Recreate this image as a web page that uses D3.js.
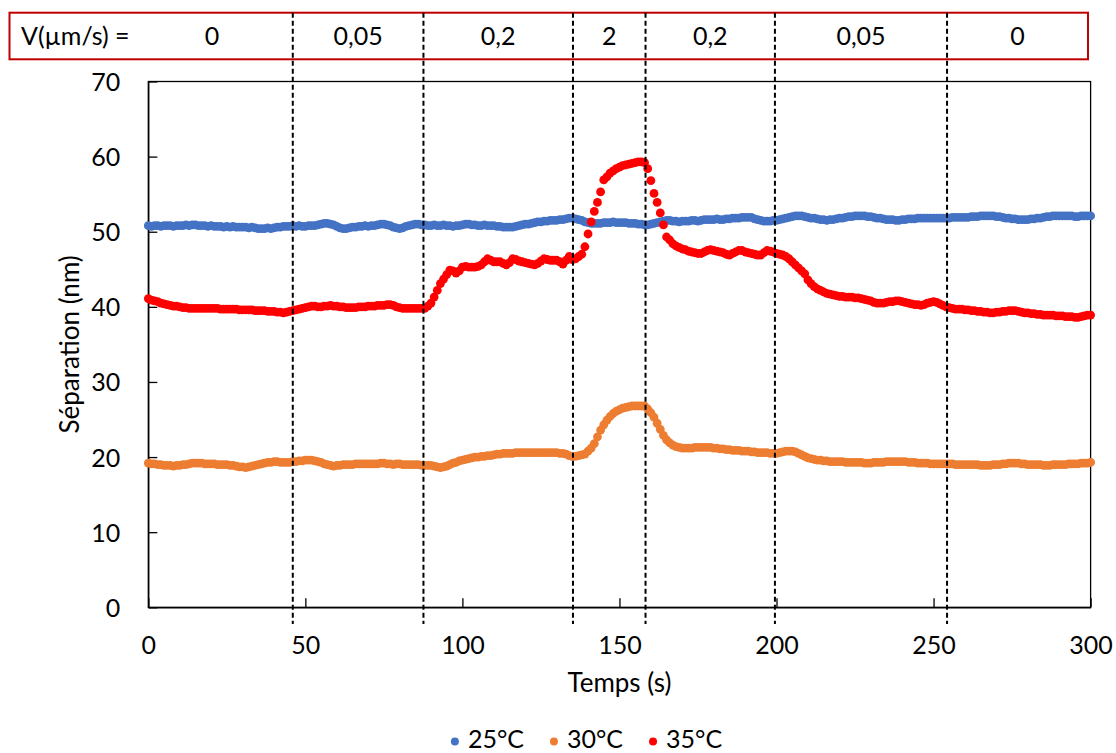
<!DOCTYPE html>
<html>
<head>
<meta charset="utf-8">
<script src="https://cdn.jsdelivr.net/npm/d3@7"></script>
<style>
  body { margin: 0; background: #fff; }
  svg { display: block; }
  text { font-family: Lato, "Open Sans", sans-serif; fill: #000; }
</style>
</head>
<body>
<svg id="chart" width="1116" height="753"></svg>
<script>
// ---------------- DATA ----------------
const seriesNames = ["25°C", "30°C", "35°C"];
const seriesColors = ["#4472C4", "#ED7D31", "#FF0000"];
const timeStart = 0;   // s
const timeStep = 1;    // s between samples

const sep25 = [
 50.8,50.7,50.8,50.8,50.7,50.8,50.8,50.8,50.7,50.8,
 50.8,50.8,50.9,50.8,50.9,50.9,50.8,50.8,50.8,50.7,
 50.8,50.7,50.7,50.7,50.6,50.7,50.6,50.7,50.6,50.6,
 50.6,50.6,50.5,50.6,50.5,50.4,50.4,50.4,50.5,50.4,
 50.5,50.6,50.6,50.7,50.7,50.7,50.8,50.7,50.8,50.7,
 50.7,50.8,50.8,50.8,50.9,51.0,51.1,51.1,51.0,50.9,
 50.7,50.5,50.4,50.4,50.5,50.6,50.6,50.7,50.7,50.8,
 50.7,50.8,50.8,50.9,51.0,51.0,50.9,50.8,50.6,50.5,
 50.4,50.5,50.7,50.8,50.9,51.0,51.0,50.9,50.9,50.8,
 50.8,50.9,50.8,50.8,50.9,50.8,50.8,50.7,50.8,50.8,
 50.9,51.0,51.0,50.9,50.9,50.8,50.8,50.9,50.8,50.8,
 50.8,50.7,50.7,50.6,50.6,50.6,50.6,50.7,50.8,50.9,
 51.0,51.0,51.1,51.2,51.3,51.3,51.4,51.4,51.5,51.5,
 51.5,51.6,51.6,51.7,51.8,51.8,51.7,51.6,51.5,51.3,
 51.2,51.1,51.1,51.1,51.1,51.2,51.2,51.2,51.3,51.2,
 51.2,51.2,51.2,51.1,51.1,51.1,51.0,51.0,50.9,50.9,
 51.0,51.1,51.2,51.3,51.4,51.5,51.5,51.4,51.4,51.3,
 51.4,51.4,51.4,51.5,51.5,51.4,51.5,51.6,51.6,51.6,
 51.6,51.7,51.6,51.6,51.7,51.7,51.8,51.8,51.8,51.9,
 51.9,51.9,51.9,51.7,51.6,51.5,51.4,51.4,51.4,51.5,
 51.5,51.6,51.7,51.8,51.9,52.0,52.1,52.1,52.1,52.0,
 51.9,51.8,51.8,51.7,51.6,51.6,51.5,51.6,51.6,51.7,
 51.8,51.8,51.9,52.0,52.0,52.1,52.1,52.1,52.1,52.0,
 52.0,51.9,51.8,51.8,51.7,51.6,51.6,51.6,51.5,51.5,
 51.6,51.6,51.7,51.7,51.7,51.8,51.8,51.8,51.8,51.8,
 51.8,51.8,51.8,51.8,51.8,51.8,51.9,51.9,51.9,51.9,
 51.9,51.9,52.0,52.0,52.0,52.1,52.1,52.1,52.1,52.1,
 52.0,52.0,51.9,51.8,51.8,51.7,51.7,51.6,51.6,51.6,
 51.6,51.7,51.7,51.8,51.8,51.9,52.0,52.0,52.1,52.1,
 52.1,52.1,52.1,52.1,52.1,52.0,52.0,52.1,52.1,52.1,
 52.1
];

const sep30 = [
 19.2,19.1,19.1,19.0,19.0,18.9,18.9,18.9,18.8,18.9,
 18.9,19.0,19.0,19.1,19.2,19.2,19.2,19.2,19.1,19.1,
 19.1,19.1,19.0,19.0,19.0,19.0,18.9,18.9,18.8,18.7,
 18.7,18.6,18.7,18.8,18.9,19.0,19.1,19.2,19.3,19.3,
 19.4,19.4,19.3,19.3,19.3,19.3,19.4,19.4,19.5,19.5,
 19.6,19.6,19.6,19.5,19.4,19.3,19.1,19.0,18.9,18.8,
 18.9,18.9,19.0,19.0,19.0,19.0,19.1,19.1,19.1,19.1,
 19.1,19.1,19.1,19.1,19.2,19.2,19.1,19.1,19.0,19.1,
 19.1,19.0,19.0,19.0,19.0,19.0,19.0,18.9,18.9,18.9,
 18.9,18.8,18.7,18.6,18.7,18.8,19.0,19.2,19.3,19.5,
 19.6,19.7,19.8,19.9,20.0,20.0,20.1,20.1,20.2,20.2,
 20.3,20.4,20.4,20.5,20.5,20.5,20.5,20.6,20.6,20.6,
 20.6,20.6,20.6,20.6,20.6,20.6,20.6,20.6,20.6,20.6,
 20.6,20.5,20.5,20.4,20.2,20.1,20.1,20.2,20.3,20.4,
 20.8,21.2,21.8,22.7,23.6,24.3,24.9,25.4,25.8,26.1,
 26.3,26.5,26.6,26.7,26.8,26.8,26.8,26.8,26.8,26.4,
 25.9,25.3,24.5,23.7,22.9,22.3,21.9,21.6,21.4,21.3,
 21.2,21.2,21.2,21.2,21.3,21.3,21.3,21.3,21.3,21.3,
 21.2,21.2,21.1,21.1,21.0,21.0,20.9,20.9,20.9,20.8,
 20.8,20.8,20.7,20.7,20.6,20.6,20.6,20.6,20.5,20.5,
 20.5,20.6,20.7,20.8,20.8,20.8,20.7,20.5,20.3,20.1,
 19.9,19.8,19.7,19.6,19.6,19.5,19.5,19.4,19.4,19.4,
 19.4,19.4,19.3,19.3,19.3,19.3,19.3,19.3,19.2,19.2,
 19.2,19.3,19.3,19.3,19.3,19.4,19.4,19.4,19.4,19.4,
 19.4,19.4,19.3,19.3,19.3,19.2,19.2,19.2,19.2,19.1,
 19.1,19.1,19.1,19.1,19.1,19.1,19.1,19.0,19.0,19.0,
 19.0,19.0,19.0,19.0,19.0,18.9,18.9,18.9,18.9,19.0,
 19.0,19.0,19.1,19.1,19.2,19.2,19.2,19.2,19.1,19.1,
 19.0,19.0,19.0,19.0,19.0,18.9,18.9,18.9,19.0,19.0,
 19.0,19.0,19.0,19.1,19.1,19.1,19.1,19.2,19.2,19.2,
 19.3
];

const sep35 = [
 41.1,40.9,40.8,40.7,40.5,40.4,40.3,40.2,40.1,40.1,
 40.0,39.9,39.9,39.8,39.8,39.8,39.8,39.8,39.8,39.8,
 39.8,39.8,39.8,39.7,39.7,39.7,39.7,39.7,39.7,39.6,
 39.6,39.6,39.6,39.6,39.5,39.5,39.5,39.5,39.4,39.4,
 39.4,39.3,39.3,39.2,39.3,39.4,39.5,39.6,39.7,39.8,
 39.9,40.0,40.1,40.1,40.0,40.0,40.1,40.1,40.2,40.1,
 40.1,40.0,40.0,39.9,39.9,39.9,39.9,40.0,40.0,40.0,
 40.1,40.1,40.1,40.2,40.2,40.2,40.3,40.3,40.2,40.0,
 39.9,39.8,39.8,39.8,39.8,39.8,39.8,39.8,39.8,40.1,
 40.5,41.3,42.2,43.1,43.7,44.3,44.9,44.8,44.5,44.8,
 45.3,45.4,45.3,45.3,45.3,45.4,45.6,46.0,46.4,46.2,
 46.0,46.0,46.0,45.8,45.6,45.9,46.4,46.3,46.1,46.0,
 45.9,45.8,45.7,45.6,45.8,46.1,46.4,46.3,46.2,46.2,
 46.2,46.0,45.7,46.2,46.7,46.3,46.4,46.7,47.0,48.0,
 49.7,51.3,52.7,53.9,55.3,56.9,57.3,57.8,58.1,58.4,
 58.6,58.8,58.9,59.0,59.1,59.2,59.3,59.3,59.2,58.4,
 56.8,55.1,53.9,52.5,50.9,49.3,48.9,48.4,48.1,47.9,
 47.7,47.6,47.4,47.3,47.2,47.1,47.1,47.3,47.5,47.6,
 47.5,47.4,47.3,47.2,47.0,46.9,47.1,47.3,47.5,47.5,
 47.3,47.2,47.1,47.0,46.9,46.9,47.2,47.5,47.4,47.3,
 47.1,47.0,46.9,46.7,46.4,46.0,45.6,45.2,44.8,44.4,
 43.6,43.1,42.7,42.4,42.2,42.0,41.8,41.7,41.6,41.5,
 41.4,41.4,41.3,41.3,41.3,41.2,41.2,41.1,41.0,40.9,
 40.8,40.6,40.5,40.5,40.5,40.6,40.7,40.7,40.8,40.8,
 40.7,40.6,40.5,40.4,40.3,40.3,40.2,40.3,40.5,40.6,
 40.7,40.6,40.4,40.2,40.0,39.9,39.8,39.7,39.7,39.7,
 39.6,39.6,39.5,39.5,39.4,39.4,39.3,39.3,39.2,39.2,
 39.3,39.3,39.4,39.4,39.5,39.5,39.5,39.4,39.3,39.2,
 39.2,39.1,39.1,39.0,39.0,38.9,38.9,38.9,38.9,38.8,
 38.8,38.8,38.7,38.7,38.7,38.6,38.6,38.7,38.8,38.9,
 38.9
];

const phaseBoundaries = [46.0, 87.6, 135.2, 158.3, 199.5, 254.3]; // s
const speedLabels = ["0", "0,05", "0,2", "2", "0,2", "0,05", "0"];
const speedHeader = "V(µm/s) =";
const xTicks = [0, 50, 100, 150, 200, 250, 300];
const yTicks = [0, 10, 20, 30, 40, 50, 60, 70];
const xTitle = "Temps (s)";
const yTitle = "Séparation (nm)";

// ---------------- LAYOUT ----------------
const svg = d3.select("#chart");
const plot = { left: 148.3, right: 1090.6, top: 81.5, bottom: 607.3 };
const x = d3.scaleLinear().domain([0, 300]).range([plot.left, plot.right]);
const y = d3.scaleLinear().domain([0, 70]).range([plot.bottom, plot.top]);
const tickFont = 25;

// plot frame
svg.append("rect")
  .attr("x", plot.left).attr("y", plot.top)
  .attr("width", plot.right - plot.left).attr("height", plot.bottom - plot.top)
  .attr("fill", "none").attr("stroke", "#000").attr("stroke-width", 1.3);

// x axis (ticks inside)
const xAxis = svg.append("g")
  .attr("transform", `translate(0,${plot.bottom})`)
  .call(d3.axisBottom(x).tickValues(xTicks).tickSizeInner(-9).tickSizeOuter(0).tickPadding(0));
xAxis.select(".domain").attr("stroke", "#000").attr("stroke-width", 1.3);
xAxis.selectAll(".tick line").attr("stroke", "#000").attr("stroke-width", 1.3);
xAxis.selectAll(".tick text")
  .attr("y", 47).attr("dy", null)
  .style("font-size", tickFont + "px").style("font-family", "Lato");

// y axis (ticks inside)
const yAxis = svg.append("g")
  .attr("transform", `translate(${plot.left},0)`)
  .call(d3.axisLeft(y).tickValues(yTicks).tickSizeInner(-9).tickSizeOuter(0).tickPadding(0));
yAxis.select(".domain").attr("stroke", "#000").attr("stroke-width", 1.3);
yAxis.selectAll(".tick line").attr("stroke", "#000").attr("stroke-width", 1.3);
yAxis.selectAll(".tick text")
  .attr("x", -28).attr("dy", "0.36em")
  .style("font-size", tickFont + "px").style("font-family", "Lato");

// axis titles
svg.append("text")
  .attr("x", (plot.left + plot.right) / 2).attr("y", 692)
  .attr("text-anchor", "middle").style("font-size", "26px")
  .text(xTitle);
svg.append("text")
  .attr("transform", `translate(79,${(plot.top + plot.bottom) / 2}) rotate(-90)`)
  .attr("text-anchor", "middle").style("font-size", "26px")
  .text(yTitle);

// data points
const allSeries = [sep25, sep30, sep35];
allSeries.forEach((vals, i) => {
  svg.append("g").selectAll("circle")
    .data(vals)
    .join("circle")
    .attr("cx", (d, k) => x(timeStart + k * timeStep))
    .attr("cy", d => y(d))
    .attr("r", 4.4)
    .attr("fill", seriesColors[i]);
});

// speed header box
const box = { left: 9.5, right: 1088, top: 12.7, bottom: 59.3 };
svg.append("rect")
  .attr("x", box.left).attr("y", box.top)
  .attr("width", box.right - box.left).attr("height", box.bottom - box.top)
  .attr("fill", "none").attr("stroke", "#C00000").attr("stroke-width", 2);

// dashed phase lines
svg.append("g").selectAll("line")
  .data(phaseBoundaries)
  .join("line")
  .attr("x1", d => x(d)).attr("x2", d => x(d))
  .attr("y1", box.top).attr("y2", 624)
  .attr("stroke", "#000").attr("stroke-width", 2)
  .attr("stroke-dasharray", "5,3");

svg.append("text")
  .attr("x", 21).attr("y", 45)
  .style("font-size", tickFont + "px")
  .text(speedHeader);

const segEdges = [131].concat(phaseBoundaries.map(d => x(d)), [box.right]);
svg.append("g").selectAll("text")
  .data(speedLabels)
  .join("text")
  .attr("x", (d, i) => (segEdges[i] + segEdges[i + 1]) / 2)
  .attr("y", 45)
  .attr("text-anchor", "middle")
  .style("font-size", tickFont + "px")
  .text(d => d);

// legend
const legend = svg.append("g");
const legFont = 25;
const items = [];
seriesNames.forEach((name, i) => {
  const g = legend.append("g");
  g.append("circle").attr("cx", 4).attr("cy", -6.5).attr("r", 4).attr("fill", seriesColors[i]);
  const t = g.append("text").attr("x", 17).attr("y", 0).style("font-size", legFont + "px").text(name);
  const w = 17 + t.node().getComputedTextLength();
  items.push({ g, w });
});
const legGap = 26;
const totalW = d3.sum(items, d => d.w) + legGap * (items.length - 1);
let lx = 586.5 - totalW / 2;
items.forEach(it => {
  it.g.attr("transform", `translate(${lx},748)`);
  lx += it.w + legGap;
});
</script>
</body>
</html>
